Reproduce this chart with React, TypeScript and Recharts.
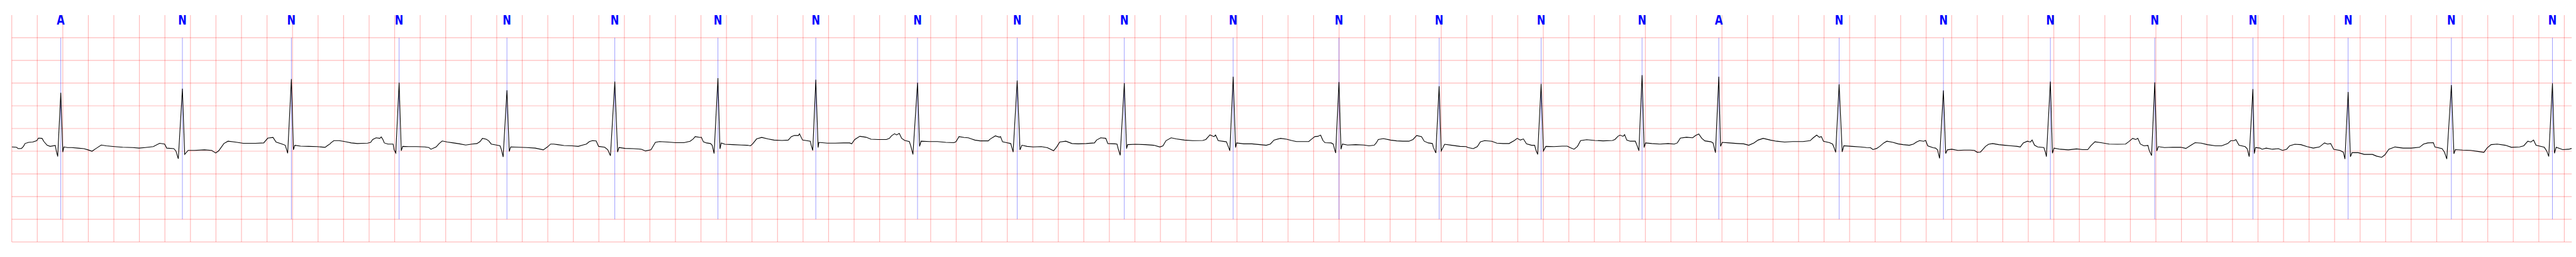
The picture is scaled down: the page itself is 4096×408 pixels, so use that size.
import React from 'react';
import {
  ComposedChart,
  Line,
  Scatter,
  XAxis,
  YAxis,
  ReferenceLine,
} from 'recharts';

// ECG trace: [time (s), amplitude (mV)]
const ecgPoints: [number, number][] = [
  [0, 0.093], [0.036, 0.086], [0.052, 0.056], [0.076, 0.061], [0.092, 0.106], [0.104, 0.169], [0.132, 0.194], [0.164, 0.202], [0.196, 0.232], [0.209, 0.288], [0.237, 0.283], [0.252, 0.212], [0.277, 0.131], [0.301, 0.106], [0.341, 0.126], [0.349, 0.005], [0.36, -0.116], [0.384, 1.288], [0.4, -0.02], [0.408, 0.093],
  [0.437, 0.081], [0.469, 0.081], [0.517, 0.068], [0.565, 0.056], [0.597, 0.03], [0.629, 0.0], [0.661, 0.061], [0.701, 0.136], [0.741, 0.119], [0.805, 0.101], [0.869, 0.086], [0.949, 0.081], [0.997, 0.068], [1.045, 0.081], [1.109, 0.101], [1.158, 0.174], [1.198, 0.157], [1.214, 0.068], [1.27, 0.056], [1.286, 0.005], [1.305, -0.167], [1.337, 1.376], [1.355, -0.071],
  [1.382, 0.018], [1.43, 0.018], [1.51, 0.03], [1.566, 0.018], [1.598, -0.04], [1.622, 0.01], [1.662, 0.169], [1.694, 0.22], [1.75, 0.202], [1.814, 0.174], [1.91, 0.174], [1.974, 0.182], [2.006, 0.288], [2.047, 0.303], [2.071, 0.202], [2.119, 0.157], [2.143, 0.131], [2.162, -0.045], [2.191, 1.591], [2.207, 0.03], [2.218, 0.131],
  [2.263, 0.111], [2.327, 0.106], [2.391, 0.101], [2.455, 0.086], [2.471, 0.119], [2.497, 0.169],
  [2.5, 0.182], [2.524, 0.232], [2.564, 0.232], [2.596, 0.22], [2.628, 0.202], [2.66, 0.182], [2.708, 0.169], [2.756, 0.174], [2.788, 0.177], [2.812, 0.194], [2.828, 0.258], [2.855, 0.295], [2.884, 0.283], [2.895, 0.313], [2.908, 0.258], [2.919, 0.182], [2.948, 0.157], [2.988, 0.157], [2.996, 0.03], [3.009, -0.04], [3.035, 1.508], [3.052, 0.01], [3.063, 0.106],
  [3.108, 0.101], [3.172, 0.101], [3.236, 0.093], [3.268, 0.081], [3.284, 0.043], [3.325, 0.093], [3.349, 0.169], [3.373, 0.225], [3.413, 0.202], [3.461, 0.182], [3.509, 0.162], [3.557, 0.136], [3.605, 0.157], [3.645, 0.169], [3.669, 0.212], [3.688, 0.283], [3.717, 0.263], [3.736, 0.232], [3.757, 0.157], [3.797, 0.136], [3.826, 0.119], [3.837, 0.03], [3.85, -0.126], [3.88, 1.343], [3.898, -0.008], [3.909, 0.093],
  [3.973, 0.086], [4.037, 0.081], [4.101, 0.068], [4.165, 0.03], [4.197, 0.093], [4.222, 0.157], [4.246, 0.157], [4.278, 0.144], [4.326, 0.126], [4.39, 0.119], [4.438, 0.106], [4.47, 0.131], [4.502, 0.157], [4.526, 0.212], [4.55, 0.232], [4.579, 0.227], [4.598, 0.106], [4.646, 0.086], [4.67, 0.03], [4.691, -0.101], [4.725, 1.533], [4.747, -0.02], [4.758, 0.081],
  [4.806, 0.061], [4.87, 0.056], [4.934, 0.043], [4.966, 0.005], [5.008, 0.03],
  [5.011, 0.043], [5.027, 0.119], [5.043, 0.194], [5.075, 0.212], [5.139, 0.202], [5.203, 0.187], [5.267, 0.187], [5.315, 0.22], [5.339, 0.27], [5.355, 0.321], [5.395, 0.303], [5.403, 0.308], [5.419, 0.207], [5.443, 0.182], [5.475, 0.169], [5.488, 0.131], [5.503, -0.051], [5.533, 1.609], [5.549, 0.051], [5.559, 0.182],
  [5.588, 0.152], [5.652, 0.144], [5.716, 0.136], [5.764, 0.131], [5.788, 0.119], [5.804, 0.157], [5.836, 0.27], [5.876, 0.303], [5.924, 0.27], [5.972, 0.245], [6.036, 0.237], [6.084, 0.245], [6.108, 0.321], [6.132, 0.346], [6.164, 0.346], [6.172, 0.384], [6.196, 0.245], [6.228, 0.232], [6.257, 0.22], [6.264, 0.131], [6.276, 0.018], [6.3, 1.576], [6.318, 0.081], [6.324, 0.194],
  [6.389, 0.177], [6.453, 0.177], [6.517, 0.182], [6.565, 0.182], [6.581, 0.162], [6.605, 0.258], [6.645, 0.328], [6.693, 0.308], [6.733, 0.263], [6.789, 0.258], [6.853, 0.258], [6.877, 0.283], [6.893, 0.338], [6.917, 0.384], [6.933, 0.359], [6.954, 0.391], [6.973, 0.283], [6.997, 0.237], [7.033, 0.212], [7.045, 0.106], [7.061, -0.071], [7.097, 1.508], [7.113, 0.106], [7.125, 0.22],
  [7.189, 0.212], [7.253, 0.212], [7.318, 0.194], [7.382, 0.187], [7.398, 0.207], [7.422, 0.321], [7.462, 0.303], [7.494, 0.295], [7.519, 0.27],
  [7.546, 0.245], [7.586, 0.227], [7.651, 0.227], [7.667, 0.27], [7.707, 0.338], [7.739, 0.308], [7.747, 0.321], [7.763, 0.207], [7.795, 0.187], [7.827, 0.169], [7.836, 0.081], [7.846, -0.02], [7.878, 1.558], [7.9, 0.03], [7.915, 0.131],
  [7.955, 0.106], [8.003, 0.093], [8.067, 0.101], [8.115, 0.076], [8.163, 0.01], [8.187, 0.093], [8.211, 0.202], [8.259, 0.22], [8.307, 0.169], [8.355, 0.162], [8.419, 0.169], [8.483, 0.182], [8.5, 0.245], [8.532, 0.295], [8.572, 0.283], [8.588, 0.169], [8.644, 0.162], [8.66, 0.157], [8.669, 0.056], [8.685, -0.091], [8.717, 1.5], [8.735, 0.056], [8.743, 0.144],
  [8.804, 0.152], [8.884, 0.144], [8.948, 0.131], [8.996, 0.093], [9.02, 0.119], [9.044, 0.232], [9.084, 0.295], [9.124, 0.27], [9.188, 0.245], [9.252, 0.232], [9.332, 0.237], [9.356, 0.258], [9.388, 0.359], [9.42, 0.321], [9.432, 0.359], [9.453, 0.232], [9.517, 0.207], [9.528, 0.131], [9.544, 0.01], [9.57, 1.641], [9.589, 0.081], [9.597, 0.182],
  [9.653, 0.162], [9.717, 0.162], [9.781, 0.144], [9.829, 0.131], [9.861, 0.157], [9.89, 0.245], [9.941, 0.283], [9.989, 0.263], [10.031, 0.232],
  [10.066, 0.212], [10.114, 0.212], [10.162, 0.212], [10.186, 0.27], [10.21, 0.321], [10.234, 0.328], [10.255, 0.354], [10.274, 0.232], [10.29, 0.187], [10.338, 0.182], [10.354, 0.157], [10.362, 0.068], [10.373, -0.04], [10.399, 1.525], [10.415, 0.043], [10.426, 0.157],
  [10.466, 0.136], [10.53, 0.144], [10.594, 0.136], [10.634, 0.119], [10.675, 0.131], [10.691, 0.182], [10.707, 0.258], [10.747, 0.278], [10.803, 0.245], [10.851, 0.227], [10.899, 0.22], [10.947, 0.22], [10.979, 0.258], [11.008, 0.346], [11.046, 0.321], [11.067, 0.22], [11.099, 0.182], [11.131, 0.169], [11.139, 0.081], [11.158, -0.04], [11.184, 1.432], [11.2, 0.005], [11.227, 0.152],
  [11.283, 0.131], [11.347, 0.106], [11.395, 0.101], [11.411, 0.081], [11.451, 0.056], [11.483, 0.101], [11.507, 0.207], [11.54, 0.232], [11.596, 0.22], [11.636, 0.177], [11.684, 0.169], [11.732, 0.169], [11.772, 0.232], [11.796, 0.283], [11.82, 0.245], [11.844, 0.27], [11.868, 0.162], [11.908, 0.131], [11.932, 0.131], [11.943, 0.018], [11.956, -0.071], [11.983, 1.482], [12.001, 0.005], [12.02, 0.106],
  [12.084, 0.101], [12.148, 0.111], [12.188, 0.111], [12.212, 0.076], [12.241, 0.043], [12.268, 0.106], [12.292, 0.232], [12.34, 0.253], [12.404, 0.237], [12.469, 0.227], [12.542, 0.237],
  [12.561, 0.258], [12.585, 0.328], [12.601, 0.354], [12.625, 0.328], [12.637, 0.364], [12.654, 0.245], [12.681, 0.22], [12.721, 0.22], [12.734, 0.131], [12.749, 0.01], [12.774, 1.677], [12.79, 0.081], [12.801, 0.182],
  [12.85, 0.169], [12.914, 0.157], [12.978, 0.169], [13.026, 0.157], [13.05, 0.182], [13.074, 0.288], [13.122, 0.308], [13.17, 0.295], [13.194, 0.346], [13.218, 0.379], [13.242, 0.283], [13.266, 0.227], [13.314, 0.207], [13.33, 0.182], [13.341, 0.056], [13.349, -0.033], [13.375, 1.641], [13.389, 0.106], [13.402, 0.194],
  [13.458, 0.182], [13.522, 0.169], [13.57, 0.162], [13.61, 0.131], [13.65, 0.182], [13.683, 0.245], [13.723, 0.283], [13.779, 0.245], [13.827, 0.22], [13.891, 0.202], [13.955, 0.212], [14.035, 0.212], [14.091, 0.232], [14.115, 0.295], [14.142, 0.354], [14.163, 0.308], [14.179, 0.321], [14.195, 0.22], [14.243, 0.187], [14.267, 0.157], [14.278, 0.081], [14.291, -0.025], [14.318, 1.475], [14.342, -0.015], [14.355, 0.119],
  [14.419, 0.106], [14.483, 0.093], [14.532, 0.081], [14.564, 0.076], [14.583, 0.035], [14.612, 0.061], [14.636, 0.106], [14.668, 0.182], [14.692, 0.22], [14.74, 0.194], [14.78, 0.162], [14.82, 0.144], [14.868, 0.131], [14.9, 0.157], [14.924, 0.202], [14.948, 0.232], [14.98, 0.22], [14.996, 0.237], [15.012, 0.119], [15.054, 0.076],
  [15.073, 0.068], [15.089, 0.03], [15.105, -0.159], [15.135, 1.338], [15.153, -0.051], [15.166, 0.03],
  [15.201, 0.043], [15.249, 0.018], [15.297, 0.025], [15.345, 0.025], [15.377, 0.018], [15.401, -0.025], [15.425, -0.02], [15.441, 0.03], [15.465, 0.106], [15.489, 0.152], [15.521, 0.169], [15.569, 0.144], [15.617, 0.131], [15.665, 0.119], [15.713, 0.106], [15.737, 0.093], [15.761, 0.182], [15.793, 0.22], [15.817, 0.202], [15.83, 0.245], [15.849, 0.131], [15.874, 0.093], [15.922, 0.081], [15.934, -0.02], [15.942, -0.121], [15.973, 1.533], [15.989, -0.045], [16.002, 0.068],
  [16.05, 0.043], [16.114, 0.03], [16.178, 0.051], [16.226, 0.035], [16.266, 0.035], [16.29, 0.119], [16.322, 0.207], [16.37, 0.187], [16.434, 0.157], [16.498, 0.152], [16.562, 0.157], [16.586, 0.207], [16.618, 0.283], [16.642, 0.258], [16.658, 0.283], [16.678, 0.157], [16.706, 0.119], [16.738, 0.126], [16.746, 0.03], [16.766, -0.096], [16.791, 1.515], [16.807, 0.005], [16.819, 0.101],
  [16.867, 0.081], [16.931, 0.086], [16.995, 0.086], [17.035, 0.061], [17.075, 0.131], [17.107, 0.187], [17.155, 0.177], [17.203, 0.144], [17.267, 0.119], [17.315, 0.119], [17.363, 0.169], [17.387, 0.232], [17.411, 0.232], [17.427, 0.253], [17.451, 0.131], [17.499, 0.101], [17.515, 0.056], [17.531, -0.121], [17.56, 1.369], [17.571, -0.051], [17.581, 0.081],
  [17.616, 0.068], [17.632, 0.043], [17.664, 0.068], [17.712, 0.043], [17.76, 0.056], [17.792, 0.018], [17.824, 0.043], [17.848, 0.119], [17.888, 0.152], [17.936, 0.144], [17.984, 0.101], [18.033, 0.068], [18.081, 0.093], [18.121, 0.182], [18.145, 0.157], [18.169, 0.169], [18.193, 0.043], [18.241, 0.018], [18.268, -0.02], [18.281, -0.172], [18.306, 1.306], [18.324, -0.121], [18.337, -0.033],
  [18.385, -0.033], [18.433, -0.071], [18.497, -0.071], [18.529, -0.109], [18.569, -0.134], [18.593, -0.083], [18.625, 0.043], [18.673, 0.093], [18.737, 0.068], [18.801, 0.068], [18.865, 0.086], [18.897, 0.157], [18.93, 0.182], [18.974, 0.187], [18.986, 0.093], [19.042, 0.056], [19.061, -0.02], [19.079, -0.172], [19.115, 1.457], [19.135, -0.058], [19.146, 0.035],
  [19.202, 0.025], [19.266, 0.018], [19.33, -0.008], [19.37, -0.025], [19.394, 0.068], [19.426, 0.144], [19.474, 0.157], [19.538, 0.131], [19.586, 0.086], [19.65, 0.093], [19.682, 0.119], [19.714, 0.22], [19.738, 0.202], [19.759, 0.245], [19.778, 0.131], [19.843, 0.086], [19.862, 0.005], [19.878, -0.116], [19.907, 1.495], [19.923, -0.045], [19.936, 0.086],
  [19.987, 0.035], [20.035, 0.043], [20.058, 0.061],
];

// beat annotations (time of the marker, s) and their symbols
const beatTimes = [
  0.384, 1.337, 2.191, 3.035, 3.88, 4.725, 5.533, 6.3, 7.097, 7.878, 8.717, 9.57, 10.399,
  11.184, 11.983, 12.774, 13.375, 14.318, 15.135, 15.973, 16.791, 17.56, 18.306, 19.115, 19.907,
];
const beatLabels = [
  'A', 'N', 'N', 'N', 'N', 'N', 'N', 'N', 'N', 'N', 'N', 'N', 'N',
  'N', 'N', 'N', 'A', 'N', 'N', 'N', 'N', 'N', 'N', 'N', 'N',
];

// ECG paper grid: 0.2 s and 0.5 mV
const timeTicks = Array.from({ length: 101 }, (_, i) => Math.round(i * 2) / 10);
const mvTicks = [-2, -1.5, -1, -0.5, 0, 0.5, 1, 1.5, 2, 2.5];

const markerBottom = -1.5;
const markerTop = 2.5;
const labelLevel = 3;

const ecgData = ecgPoints.map(([t, mv]) => ({ t, mv }));
const labelData = beatTimes.map((t, i) => ({ t, level: labelLevel, label: beatLabels[i] }));

const gridStroke = '#ff0000';

const BeatLabel = (props: any) => {
  const { cx, cy, payload } = props;
  if (cx == null || cy == null) return null;
  return (
    <text
      transform={`translate(${cx},${cy + 15.3}) scale(0.77,1)`}
      textAnchor="middle"
      fontFamily="'DejaVu Sans', sans-serif"
      fontWeight="bold"
      fontSize={21}
      fill="#0000ff"
    >
      {payload.label}
    </text>
  );
};

const App = () => {
  return (
    <div style={{ position: 'absolute', left: 0, top: 0, width: 4096, height: 408, background: '#fff' }}>
      <ComposedChart
        width={4096}
        height={408}
        margin={{ top: 23.9, right: 6.8, bottom: 23.9, left: 18.7 }}
      >
        <XAxis
          type="number"
          dataKey="t"
          domain={[0, 20.058]}
          ticks={timeTicks}
          tick={false}
          tickLine={false}
          axisLine={false}
          height={0}
          allowDataOverflow
        />
        <YAxis
          type="number"
          domain={[-2, 3]}
          ticks={mvTicks}
          tick={false}
          tickLine={false}
          axisLine={false}
          width={0}
          allowDataOverflow
        />
        {timeTicks.map((t) => (
          <ReferenceLine
            key={`vx${t}`}
            x={t}
            stroke={gridStroke}
            strokeOpacity={0.27}
            strokeWidth={1.2}
          />
        ))}
        {mvTicks.map((v) => (
          <ReferenceLine
            key={`hy${v}`}
            y={v}
            stroke={gridStroke}
            strokeOpacity={0.27}
            strokeWidth={1.2}
          />
        ))}
        {beatTimes.map((t, i) => (
          <ReferenceLine
            key={`b${i}`}
            segment={[{ x: t, y: markerBottom }, { x: t, y: markerTop }]}
            stroke="#0000ff"
            strokeOpacity={0.55}
            strokeWidth={0.7}
          />
        ))}
        <Line
          data={ecgData}
          dataKey="mv"
          type="linear"
          dot={false}
          stroke="#000000"
          strokeWidth={1.1}
          isAnimationActive={false}
        />
        <Scatter
          data={labelData}
          dataKey="level"
          shape={<BeatLabel />}
          isAnimationActive={false}
        />
      </ComposedChart>
    </div>
  );
};

export default App;
